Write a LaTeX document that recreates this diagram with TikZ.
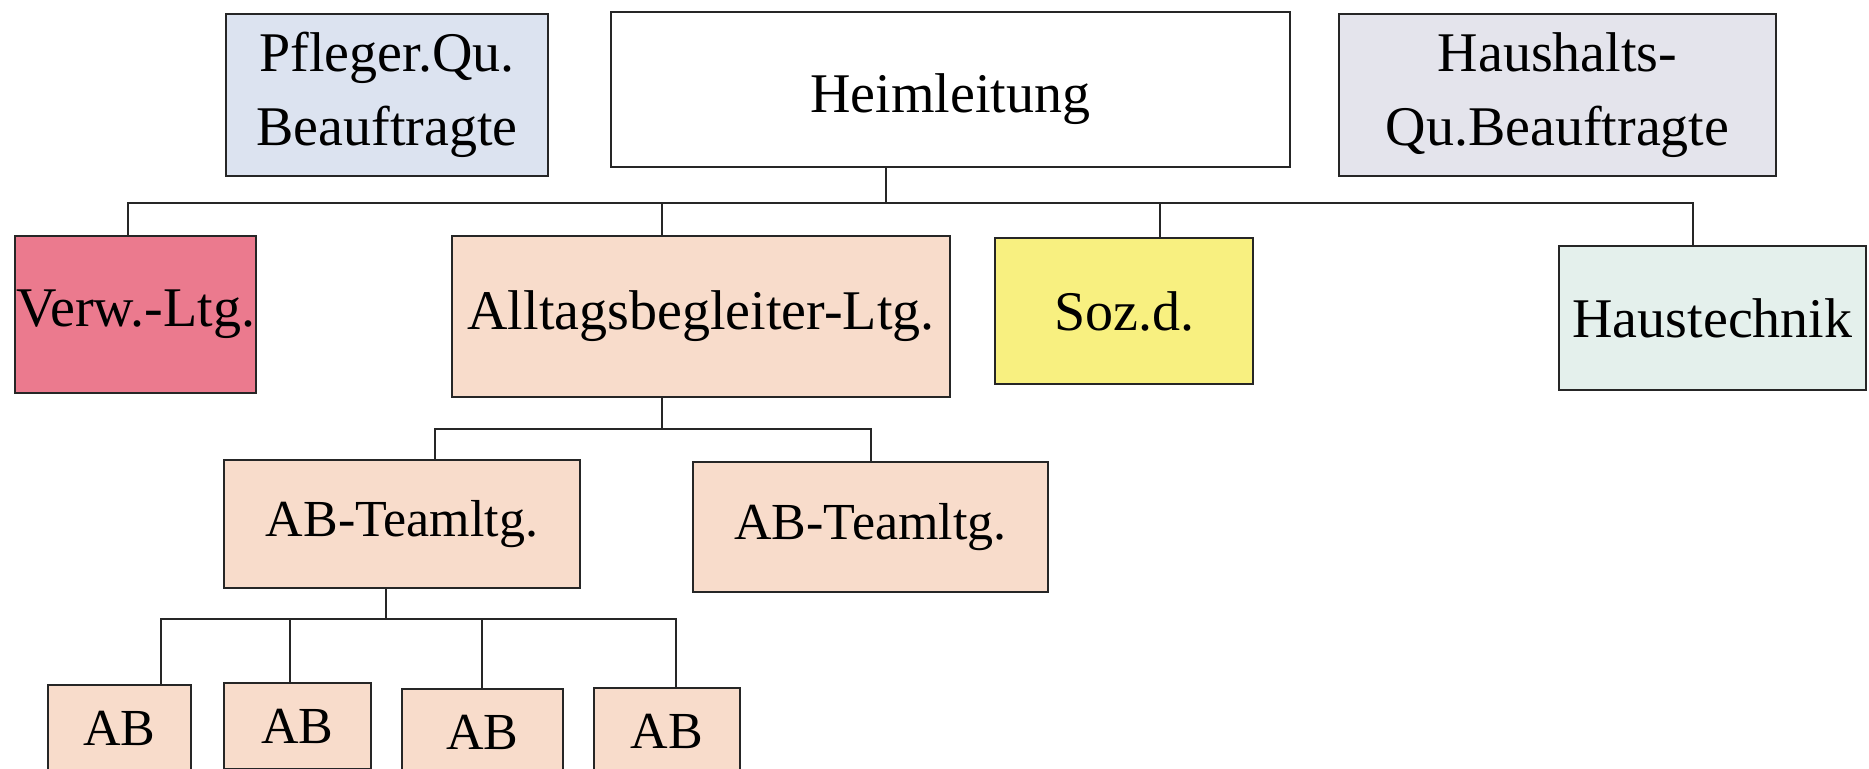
\documentclass[tikz,border=0pt]{standalone}
\usepackage{fontspec}
\setmainfont{Liberation Serif}
\definecolor{cpfl}{HTML}{DCE3F0}
\definecolor{chaus}{HTML}{E4E4EC}
\definecolor{cverw}{HTML}{EB7A8E}
\definecolor{cpeach}{HTML}{F8DCCB}
\definecolor{csoz}{HTML}{F8F080}
\definecolor{ctech}{HTML}{E4F0EC}
\tikzset{
  box/.style={draw=black!85, line width=1pt, inner sep=0pt, outer sep=0pt, align=center,
    font=\fontsize{28}{37}\selectfont},
  smallbox/.style={box, font=\fontsize{26}{30}\selectfont},
  conn/.style={draw=black!85, line width=0.8pt}
}
\begin{document}
\begin{tikzpicture}[x=0.5pt,y=-0.5pt]
\clip (0,0) rectangle (1869,768);
\fill[white] (0,0) rectangle (1869,768);
% top row
\node[box, fill=cpfl, minimum width=161pt, minimum height=81pt] (pfl) at (387,95) {Pfleger.Qu.\\Beauftragte};
\node[box, fill=white, minimum width=339.5pt, minimum height=77.5pt, text height=29pt, text depth=6pt] (heim) at (950.5,89.5) {Heimleitung};
\node[box, fill=chaus, minimum width=218.5pt, minimum height=81pt] (haus) at (1557.5,95) {Haushalts-\\Qu.Beauftragte};
% second row
\node[box, fill=cverw, minimum width=120.5pt, minimum height=78.5pt] (verw) at (135.5,314.5) {Verw.-Ltg.};
\node[box, fill=cpeach, minimum width=249pt, minimum height=80.5pt] (allt) at (701,316.5) {Alltagsbegleiter-Ltg.};
\node[box, fill=csoz, minimum width=129pt, minimum height=73pt] (soz) at (1124,311) {Soz.d.};
\node[box, fill=ctech, minimum width=153.5pt, minimum height=72pt] (htech) at (1712.5,318) {Haustechnik};
% third row
\node[smallbox, fill=cpeach, minimum width=178pt, minimum height=64pt] (t1) at (402,524) {AB-Teamltg.};
\node[smallbox, fill=cpeach, minimum width=177.5pt, minimum height=65pt] (t2) at (870.5,527) {AB-Teamltg.};
% fourth row
\node[smallbox, fill=cpeach, minimum width=71.5pt, minimum height=43pt, anchor=north] (ab1) at (119.5,685) {AB};
\node[smallbox, fill=cpeach, minimum width=73.5pt, minimum height=43pt, anchor=north] (ab2) at (297.5,683) {AB};
\node[smallbox, fill=cpeach, minimum width=80.5pt, minimum height=43pt, anchor=north] (ab3) at (482.5,689) {AB};
\node[smallbox, fill=cpeach, minimum width=73pt, minimum height=43pt, anchor=north] (ab4) at (667,688) {AB};
% connectors level 1
\coordinate (b0) at (886,203);
\coordinate (bL) at (128,203);
\coordinate (bR) at (1693,203);
\coordinate (d2) at (662,203);
\coordinate (d3) at (1160,203);
\draw[conn] (b0 |- heim.south) -- (b0);
\draw[conn] (bL |- verw.north) -- (bL) -- (bR) -- (bR |- htech.north);
\draw[conn] (d2) -- (d2 |- allt.north);
\draw[conn] (d3) -- (d3 |- soz.north);
% connectors level 2
\coordinate (c0) at (662,429);
\coordinate (cL) at (435,429);
\coordinate (cR) at (871,429);
\draw[conn] (c0 |- allt.south) -- (c0);
\draw[conn] (cL |- t1.north) -- (cL) -- (cR) -- (cR |- t2.north);
% connectors level 3
\coordinate (e0) at (386,619);
\coordinate (e1) at (161,619);
\coordinate (e2) at (290,619);
\coordinate (e3) at (482,619);
\coordinate (e4) at (676,619);
\draw[conn] (e0 |- t1.south) -- (e0);
\draw[conn] (e1 |- ab1.north) -- (e1) -- (e4) -- (e4 |- ab4.north);
\draw[conn] (e2) -- (e2 |- ab2.north);
\draw[conn] (e3) -- (e3 |- ab3.north);
\end{tikzpicture}
\end{document}
